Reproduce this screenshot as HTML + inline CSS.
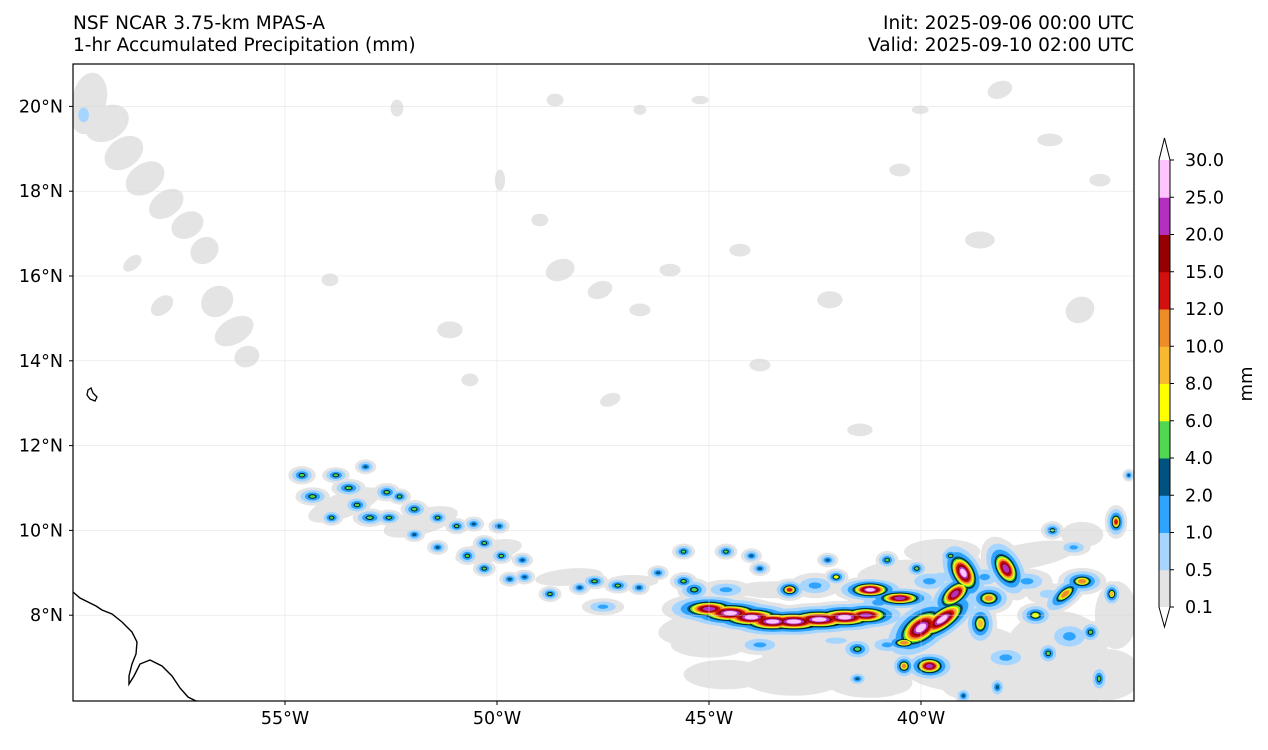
<!DOCTYPE html>
<html><head><meta charset="utf-8"><style>
html,body{margin:0;padding:0;background:#fff;}
body{width:1268px;height:745px;overflow:hidden;font-family:"Liberation Sans","DejaVu Sans",sans-serif;}
svg text{font-family:"DejaVu Sans","Liberation Sans",sans-serif;fill:#000;}
</style></head><body>
<svg id="chart" width="1268" height="745" xmlns="http://www.w3.org/2000/svg">
<text x="73" y="29" font-size="18.5">NSF NCAR 3.75-km MPAS-A</text>
<text x="73" y="51" font-size="18.5">1-hr Accumulated Precipitation (mm)</text>
<text x="1134" y="29" font-size="18.5" text-anchor="end">Init: 2025-09-06 00:00 UTC</text>
<text x="1134" y="51" font-size="18.5" text-anchor="end">Valid: 2025-09-10 02:00 UTC</text>
<defs><clipPath id="mapclip"><rect x="73" y="64" width="1061" height="637"/></clipPath></defs>
<g id="map" clip-path="url(#mapclip)"></g>
<g id="axes"></g>
<g id="cbar"></g>
</svg>
<script>
// ---- data ----
const levels = [0.1,0.5,1,2,4,6,8,10,12,15,20,25,30];
const levelColors = ["#e4e4e4","#a6d5ff","#2ea4ff","#00527f","#50d850","#ffff00","#f8b830","#ee8c28","#d21010","#960000","#b42fbf","#ffc4ff"];
const lonTicks = [-55,-50,-45,-40];
const latTicks = [8,10,12,14,16,18,20];
// gray (0.1-0.5 mm) patches: lon, lat, rx, ry (deg), rotation
const grayLon = [-59.6,-59.2,-58.8,-58.3,-57.8,-57.3,-56.9,-56.6,-56.2,-55.9,-58.6,-57.9,-52.36,-48.63,-49.93,-48.51,-47.57,-46.63,-44.27,-42.15,-40.5,-38.14,-36.96,-36.25,-51.11,-50.64,-47.33,-43.8,-41.44,-46.63,-45.21,-40.02,-38.61,-35.78,-53.94,-48.99,-45.92,-53.6,-51.8,-50.2,-48.3,-46.8,-44.8,-42.0,-39.0,-36.8,-35.6,-43.5,-40.5,-37.5,-44.6,-41.2,-38.5,-36.2,-43.0,-37.0,-45.0,-39.5,-40.8,-35.4];
const grayLat = [20.2,19.6,18.9,18.3,17.7,17.2,16.6,15.4,14.7,14.1,16.3,15.3,19.96,20.15,18.26,16.14,15.67,15.2,16.61,15.44,18.5,20.39,19.21,15.2,14.73,13.55,13.08,13.9,12.37,19.92,20.15,19.92,16.85,18.26,15.91,17.32,16.14,10.6,10.2,9.5,8.9,8.8,7.7,7.2,7.0,7.2,6.6,8.6,9.0,9.4,6.6,6.4,6.3,9.9,6.6,6.3,7.3,9.5,8.2,8.0];
const grayRx = [0.4,0.55,0.5,0.5,0.45,0.4,0.35,0.4,0.5,0.3,0.25,0.3,0.15,0.2,0.12,0.35,0.3,0.25,0.25,0.3,0.25,0.3,0.3,0.35,0.3,0.2,0.25,0.25,0.3,0.15,0.2,0.2,0.35,0.25,0.2,0.2,0.25,0.9,0.9,0.8,0.8,0.6,1.4,1.8,1.6,1.2,0.8,0.9,1.0,1.2,1.0,1.0,1.0,0.5,1.3,1.5,0.9,0.9,1.0,0.5];
const grayRy = [0.6,0.4,0.35,0.35,0.3,0.3,0.3,0.35,0.3,0.25,0.15,0.2,0.2,0.15,0.25,0.25,0.2,0.15,0.15,0.2,0.15,0.2,0.15,0.3,0.2,0.15,0.15,0.15,0.15,0.12,0.1,0.1,0.2,0.15,0.15,0.15,0.15,0.3,0.3,0.25,0.2,0.15,0.45,0.7,0.8,0.9,0.6,0.2,0.3,0.3,0.35,0.35,0.35,0.3,0.5,0.5,0.3,0.3,0.4,0.8];
const grayRot = [10,-30,-35,-35,-35,-30,-40,-40,-30,-20,-40,-40,0,0,0,-20,-20,0,0,0,0,-20,0,-30,0,0,-20,0,0,0,0,0,0,0,0,0,0,-20,-15,-12,-5,0,-5,0,0,0,0,0,-5,-10,0,0,0,0,0,0,0,0,0,0];
// precipitation cells: lon, lat, peak (mm), core rx, ry (deg), rotation
const cellLon = [-59.75,-54.6,-54.35,-53.9,-53.8,-53.5,-53.3,-53.1,-53.0,-52.6,-52.55,-52.3,-51.95,-51.95,-51.4,-51.4,-50.95,-50.7,-50.55,-50.3,-50.3,-49.95,-49.9,-49.7,-49.4,-49.35,-48.75,-48.05,-47.7,-47.15,-46.65,-46.2,-45.6,-45.6,-45.35,-45.0,-44.5,-44.0,-43.5,-43.0,-42.4,-41.8,-41.3,-40.0,-39.5,-39.2,-40.4,-40.5,-41.5,-41.2,-39.0,-38.0,-38.4,-38.6,-39.8,-40.4,-37.3,-36.6,-36.2,-35.4,-35.5,-43.1,-42.2,-42.0,-40.8,-40.1,-39.3,-43.8,-44.6,-44.0,-36.0,-35.8,-37.0,-41.5,-38.2,-39.0,-35.1,-36.9,-42.5,-41.0,-39.8,-38.5,-37.5,-36.5,-38.0,-40.8,-43.8,-44.6,-47.5,-36.4,-39.5,-37.0,-42.0];
const cellLat = [19.8,11.3,10.8,10.3,11.3,11.0,10.6,11.5,10.3,10.9,10.3,10.8,10.5,9.9,10.3,9.6,10.1,9.4,10.15,9.1,9.7,10.1,9.4,8.85,9.3,8.9,8.5,8.65,8.8,8.7,8.65,9.0,9.5,8.8,8.6,8.15,8.05,7.95,7.85,7.85,7.9,7.95,8.0,7.7,7.9,8.5,7.35,8.4,7.2,8.6,9.0,9.1,8.4,7.8,6.8,6.8,8.0,8.5,8.8,10.2,8.5,8.6,9.3,8.9,9.3,9.1,9.4,9.1,9.5,9.4,7.6,6.5,7.1,6.5,6.3,6.1,11.3,10.0,8.7,8.3,8.8,8.9,8.8,7.5,7.0,7.3,7.3,8.6,8.2,9.6,8.9,8.5,7.4];
const cellPeak = [0.8,5,6,5,5,6,5,4,6,5,5,5,5,4,5,4,5,5,4,5,5,3,5,4,4,4,5,4,5,5,4,4,6,6,6,22,30,26,30,30,28,30,22,30,30,25,12,25,6,26,28,25,12,10,22,12,8,12,12,15,10,15,4,8,5,5,5,4,5,4,6,5,5,4,4,3,4,6,1.5,1.5,1.5,1.5,1.5,1.5,1.5,1.5,1.5,1.5,1.5,1.5,0.8,0.8,0.8];
const cellRx = [0.25,0.12,0.15,0.1,0.12,0.15,0.12,0.1,0.15,0.12,0.12,0.1,0.12,0.1,0.1,0.1,0.1,0.1,0.1,0.1,0.1,0.1,0.1,0.1,0.1,0.1,0.1,0.1,0.12,0.12,0.1,0.1,0.1,0.12,0.15,0.3,0.32,0.32,0.32,0.35,0.35,0.32,0.28,0.28,0.3,0.22,0.18,0.26,0.15,0.22,0.13,0.13,0.18,0.13,0.17,0.1,0.15,0.22,0.18,0.08,0.08,0.12,0.1,0.1,0.1,0.1,0.1,0.1,0.1,0.1,0.1,0.08,0.1,0.1,0.08,0.08,0.06,0.1,0.3,0.3,0.3,0.25,0.3,0.3,0.3,0.25,0.3,0.3,0.25,0.2,0.5,0.4,0.5];
const cellRy = [0.35,0.08,0.08,0.07,0.07,0.08,0.08,0.07,0.08,0.08,0.07,0.07,0.08,0.07,0.07,0.07,0.07,0.08,0.07,0.07,0.07,0.07,0.07,0.07,0.07,0.07,0.07,0.07,0.07,0.07,0.07,0.07,0.07,0.08,0.1,0.1,0.1,0.1,0.1,0.1,0.1,0.1,0.1,0.16,0.12,0.12,0.08,0.08,0.1,0.08,0.22,0.22,0.12,0.18,0.1,0.1,0.1,0.1,0.1,0.12,0.1,0.08,0.07,0.07,0.08,0.08,0.08,0.07,0.07,0.07,0.1,0.12,0.1,0.07,0.1,0.08,0.06,0.08,0.15,0.15,0.15,0.15,0.15,0.2,0.15,0.12,0.12,0.12,0.1,0.1,0.2,0.2,0.15];
const cellRot = [0,0,0,0,0,0,0,0,0,0,0,0,0,0,0,0,0,0,0,0,0,0,0,0,0,0,0,0,0,0,0,0,0,0,0,0,0,0,0,0,0,0,0,-35,-35,-40,0,0,0,0,-30,-30,0,0,0,0,0,-40,0,0,0,0,0,0,0,0,0,0,0,0,0,0,0,0,0,0,0,0,0,0,0,0,0,0,0,0,0,0,0,0,0,0,0];

// ---- axes ----
const NS = "http://www.w3.org/2000/svg";
const X0=73, X1=1134, Y0=64, Y1=701, LON0=-60, LAT1=21, PPD=42.4;
const xOf = lon => X0 + (lon - LON0) * PPD;
const yOf = lat => Y0 + (LAT1 - lat) * PPD;
function mk(tag, attrs, parent){const e=document.createElementNS(NS,tag);for(const k in attrs)e.setAttribute(k,attrs[k]);parent.appendChild(e);return e;}
const map = document.getElementById('map');
const axes = document.getElementById('axes');
const cbar = document.getElementById('cbar');

for (let i=0;i<grayLon.length;i++){
  const cx=xOf(grayLon[i]), cy=yOf(grayLat[i]);
  const e=mk('ellipse',{cx:cx,cy:cy,rx:grayRx[i]*PPD,ry:grayRy[i]*PPD,fill:levelColors[0],transform:`rotate(${grayRot[i]} ${cx} ${cy})`},map);
  
  
}
// halo growth per contour band (style, not data)
const bandStep = [0.8,0.7,0.5,0.2,0.2,0.15,0.12,0.15,0.2,0.2,0.2,0.2];
function nLevels(p){let n=0;for(let i=1;i<levels.length;i++){if(p>levels[i])n=i;}return n;}
for (let L=0; L<levelColors.length; L++){
  for (let i=0;i<cellLon.length;i++){
    const n=nLevels(cellPeak[i]);
    if (L>n) continue;
    let k=0.5;
    for (let j=L;j<n;j++) k+=bandStep[j];
    const cx=xOf(cellLon[i]), cy=yOf(cellLat[i]);
    const e=mk('ellipse',{cx:cx,cy:cy,rx:cellRx[i]*PPD*k,ry:cellRy[i]*PPD*k,fill:levelColors[L],transform:`rotate(${cellRot[i]} ${cx} ${cy})`},map);
    if (L===4){e.setAttribute('stroke','#000');e.setAttribute('stroke-width','0.6');}
    
    
  }
}
lonTicks.forEach(v=>{const l=mk('line',{x1:xOf(v),x2:xOf(v),y1:Y0,y2:Y1,stroke:'#d8d8d8','stroke-width':0.6,'stroke-opacity':0.7},map);
  
  });
latTicks.forEach(v=>{const l=mk('line',{x1:X0,x2:X1,y1:yOf(v),y2:yOf(v),stroke:'#d8d8d8','stroke-width':0.6,'stroke-opacity':0.7},map);
  
  });
const coast=mk('path',{d:'M73,592 L80,598 L88,602 L96,606 L102,610 L112,614 L122,622 L132,632 L137,642 L136,654 L132,664 L129,676 L129,684 L134,676 L140,664 L150,660 L162,666 L172,676 L180,688 L188,697 L196,701 L210,703',fill:'none',stroke:'#000','stroke-width':1.4},map);


const isl=mk('path',{d:'M88,390 L91,388 L93,393 L97,397 L95,401 L90,399 L87,395 Z',fill:'none',stroke:'#000','stroke-width':1.3},map);


const fr=mk('rect',{x:X0,y:Y0,width:X1-X0,height:Y1-Y0,fill:'none',stroke:'#000','stroke-width':1.2},axes);


lonTicks.forEach(v=>{
  mk('line',{x1:xOf(v),x2:xOf(v),y1:Y1,y2:Y1+4,stroke:'#000'},axes);
  const t=mk('text',{x:xOf(v),y:Y1+23,'font-size':17.5,'text-anchor':'middle'},axes);
  t.textContent=Math.abs(v)+'°W';
  
  
});
latTicks.forEach(v=>{
  mk('line',{x1:X0-4,x2:X0,y1:yOf(v),y2:yOf(v),stroke:'#000'},axes);
  const t=mk('text',{x:X0-10,y:yOf(v)+6,'font-size':17.5,'text-anchor':'end'},axes);
  t.textContent=v+'°N';
  
  
});
const CB_X=1159, CB_W=11, CB_BOT=607, CB_TOP=160;
const seg=(CB_BOT-CB_TOP)/(levels.length-1);
const cbY = i => CB_BOT - i*seg;
levelColors.forEach((c,i)=>{
  const r=mk('rect',{x:CB_X,y:cbY(i+1),width:CB_W,height:seg+0.5,fill:c},cbar);
  
  
});
const ext=mk('path',{d:`M${CB_X},${CB_BOT} L${CB_X+CB_W/2},${CB_BOT+20} L${CB_X+CB_W},${CB_BOT} M${CB_X},${CB_TOP} L${CB_X+CB_W/2},${CB_TOP-22} L${CB_X+CB_W},${CB_TOP}`,fill:'#fff',stroke:'#000','stroke-width':1},cbar);


const cbo=mk('path',{d:`M${CB_X},${CB_TOP} L${CB_X},${CB_BOT} M${CB_X+CB_W},${CB_TOP} L${CB_X+CB_W},${CB_BOT}`,stroke:'#000','stroke-width':1,fill:'none'},cbar);


levels.forEach((v,i)=>{
  mk('line',{x1:CB_X+CB_W,x2:CB_X+CB_W+4,y1:cbY(i),y2:cbY(i),stroke:'#000'},cbar);
  const t=mk('text',{x:CB_X+CB_W+15,y:cbY(i)+6,'font-size':17.5},cbar);
  t.textContent=v.toFixed(1);
  
  
});
const u=mk('text',{x:1252,y:384,'font-size':18,'text-anchor':'middle',transform:'rotate(-90 1252 384)'},cbar);
u.textContent='mm';


</script>
</body></html>
